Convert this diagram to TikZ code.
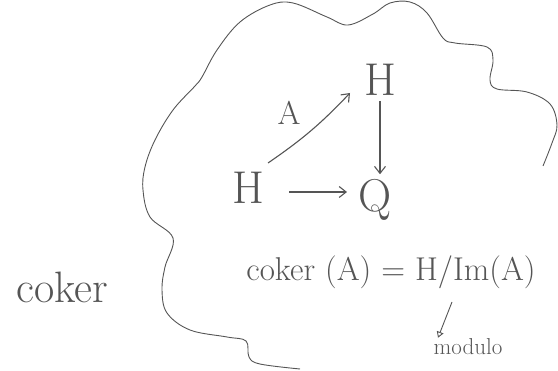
\documentclass[tikz,border=0pt]{standalone}
\usepackage{fontspec}
\usepackage{tikz}
\usetikzlibrary{
    positioning,   % below=of, etc.
    arrows.meta    % puntas de flecha
}
\definecolor{pencil}{RGB}{85,85,85}
\tikzset{
    obj/.style={
        font=\fontsize{46}{50}\selectfont, text=pencil, inner sep=5pt
    },
    lbl/.style={
        font=\fontsize{33}{37}\selectfont, text=pencil, inner sep=1pt
    },
    note/.style={
        font=\fontsize{33}{37}\selectfont, text=pencil, inner sep=1pt
    },
    map/.style={
        -{Straight Barb[length=7pt,width=11pt]}, draw=pencil, line width=1.1pt
    },
    pointer/.style={
        -{Triangle[open,length=6pt,width=7pt]}, draw=pencil, line width=0.9pt
    },
    blob/.style={
        draw=pencil, line width=0.9pt
    }
}
\begin{document}
\begin{tikzpicture}[x=1pt, y=-1pt]
    \useasboundingbox (0,0) rectangle (558,371);

    % --- Nube ---
    \draw[blob] plot[smooth, tension=0.6] coordinates {
        (543,166) (552,143) (557,125) (550,104) (527,92) (497,89)
        (490,80) (493,60) (487,47) (455,43) (443,38) (427,13) (410,2)
        (390,3) (373,14) (348,25) (327,17) (293,3) (270,5) (240,22)
        (217,50) (202,77) (195,86) (173,110) (155,140) (145,167)
        (143,190) (150,217) (173,238) (165,267) (162,290) (167,313)
        (190,330) (227,337) (246,341) (249,357) (260,364) (300,369)
    };

    % --- Objetos ---
    \node[obj] (src)  at (248,188) {H};
    \node[obj] (tgt)  at (380,80)  {H};
    \node[obj] (quot) at (375,200) {Q};

    % --- Flechas ---
    \coordinate (astart) at (268,163);
    \coordinate (aend)   at (350,93);
    \draw[map] (astart) to[bend right=6] (aend);
    \node[lbl] (lblA) at (289,113) {A};
    \draw[map] (tgt.south) -- (tgt.south |- quot.north);
    \coordinate (hstart) at (289,192);
    \coordinate (hend)   at (347,192);
    \draw[map] (hstart) -- (hend);

    % --- Cociente ---
    \node[note] (coker) at (391,272) {coker (A) = H/Im(A)};
    \coordinate (imfoot) at (452,302);
    \node[note, font=\fontsize{23}{27}\selectfont] (modulo) at (468,347) {modulo};
    \draw[pointer] (imfoot) -- ([xshift=-30pt]modulo.north);

    % --- Etiqueta lateral ---
    \node[note, font=\fontsize{44}{48}\selectfont] (side) at (62,287) {coker};

\end{tikzpicture}
\end{document}
